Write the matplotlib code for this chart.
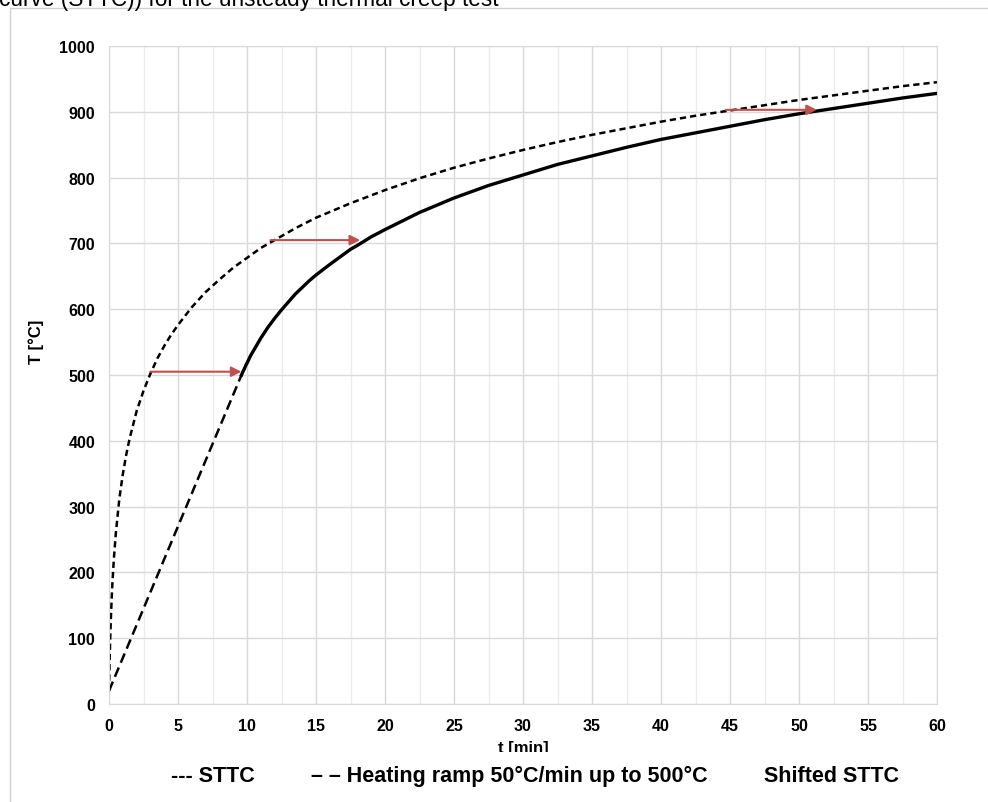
import matplotlib
matplotlib.use("Agg")
import matplotlib.pyplot as plt
from matplotlib.patches import Rectangle

plt.rcParams['font.family'] = ['Liberation Sans', 'DejaVu Sans']

# STTC
sttc_t = [0, 0.05, 0.1, 0.15, 0.2, 0.25, 0.35, 0.5, 0.75, 1, 1.25, 1.5, 2, 2.5, 3, 3.5, 4, 4.5,
          5, 6, 7, 8, 9, 10, 11, 12, 13.5, 15, 17.5, 20, 22.5, 25, 27.5, 30, 32.5, 35, 37.5,
          40, 42.5, 45, 47.5, 50, 52.5, 55, 57.5, 60]
sttc_T = [20, 70, 108, 138, 163, 185, 220, 261, 312, 349, 379, 404, 445, 476, 502, 525, 544, 561,
          576, 603, 626, 645, 663, 678, 693, 705, 723, 739, 761, 781, 799, 815, 829, 842, 854, 865, 875,
          885, 894, 902, 910, 918, 925, 932, 939, 945]

# heating ramp 50 C/min up to 500 C
ramp_t = [0, 9.6]
ramp_T = [20, 500]

# shifted STTC
shift_t = [9.6, 9.7, 9.8, 9.9, 10, 10.25, 10.5, 10.75, 11, 11.5, 12, 12.5, 13, 13.5, 14, 14.5,
           15, 16, 17.5, 18, 19, 20, 22.5, 25, 27.5, 30, 32.5, 35, 37.5, 40, 42.5, 45, 47.5,
           50, 52.5, 55, 57.5, 60]
shift_T = [500, 505, 509, 514, 518, 529, 538, 547, 556, 572, 586, 599, 611, 623, 633, 643,
           652, 668, 691, 697, 710, 721, 747, 769, 788, 804, 820, 833, 846, 858, 868, 878, 888,
           897, 905, 913, 921, 928]

# red arrows
arrow_from = [3.0, 11.7, 44.7]
arrow_to = [9.6, 18.2, 51.3]
arrow_T = [505, 705, 903]

labels = ["--- STTC", "– – Heating ramp 50°C/min up to 500°C", "Shifted STTC"]

fig = plt.figure(figsize=(9.88, 8.03), dpi=100)
ax = fig.add_axes([109/988, 1 - 705/803, 828/988, 658/803])

l1, = ax.plot(sttc_t, sttc_T, color='black', lw=1.8, linestyle=(0, (2.5, 1.6)))
l2, = ax.plot(ramp_t, ramp_T, color='black', lw=1.8, linestyle=(0, (4.0, 2.1)))
l3, = ax.plot(shift_t, shift_T, color='black', lw=2.4)

for a, b, T in zip(arrow_from, arrow_to, arrow_T):
    ax.annotate('', xy=(b, T), xytext=(a, T),
                arrowprops=dict(arrowstyle='-|>', color='#c0504d', lw=1.5,
                                mutation_scale=15, shrinkA=0, shrinkB=0))

ax.set_xlim(0, 60)
ax.set_ylim(0, 1000)
ax.set_xticks(range(0, 61, 5))
ax.set_xticks([x + 2.5 for x in range(0, 60, 5)], minor=True)
ax.set_yticks(range(0, 1001, 100))
ax.grid(which='major', color='#d9d9d9', lw=1)
ax.grid(which='minor', axis='x', color='#ececec', lw=1)
ax.set_axisbelow(True)
for s in ax.spines.values():
    s.set_color('#d9d9d9')
ax.tick_params(which='both', length=0, pad=10, labelsize=11.5)
for lab in ax.get_xticklabels() + ax.get_yticklabels():
    lab.set_fontweight('bold')

ax.set_xlabel("t [min]", fontsize=12, fontweight='bold', va='top')
ax.xaxis.set_label_coords(0.5, (705 - 741) / 658)
ax.set_ylabel("T [°C]", fontsize=12, fontweight='bold')
ax.yaxis.set_label_coords(-0.078, 0.552)

leg = fig.legend([l1, l2, l3], labels, loc='upper center',
                 bbox_to_anchor=(535/988, 1 - 753/803), ncol=3,
                 handlelength=0, handletextpad=0, columnspacing=2.6,
                 frameon=True, facecolor='white', edgecolor='none', fancybox=False,
                 framealpha=1, borderpad=0.6, borderaxespad=0,
                 prop={'weight': 'bold', 'size': 15.5})
leg.set_zorder(10)

# cut-off caption text and outer frame of the screenshot
fig.text(-1/988, 1 - 6/803, "curve (STTC)) for the unsteady thermal creep test",
         fontsize=16.3, va='baseline', ha='left')
fig.add_artist(Rectangle((9.5/988, -0.1), 1.2, 1 - 8.5/803 + 0.1, transform=fig.transFigure,
                         fill=False, edgecolor='#d0d0d0', lw=1))

fig.savefig("out.png", dpi=100)
